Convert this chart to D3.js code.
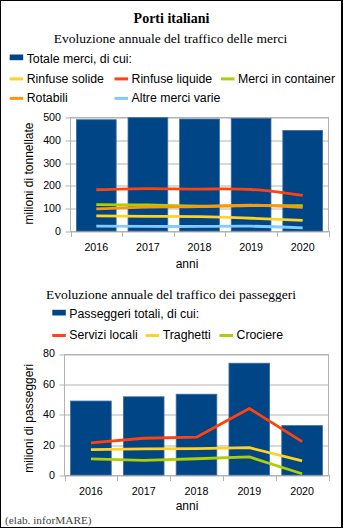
<!DOCTYPE html>
<html><head><meta charset="utf-8">
<script src="https://cdn.jsdelivr.net/npm/d3@7"></script>
<style>body{margin:0;background:#fff} svg{display:block}</style>
</head><body><svg id="c" width="343" height="528"></svg>
<script>
// Anni e dati (milioni di tonnellate / milioni di passeggeri)
const years = ["2016", "2017", "2018", "2019", "2020"];

const totaleMerci    = [488, 497, 491, 494, 441];
const rinfuseSolide  = [66, 64, 63, 56, 47];
const rinfuseLiquide = [181, 186, 184, 182, 156];
const merciContainer = [116, 114, 109, 111, 111];
const rotabili       = [97, 105, 107, 113, 104];
const altreMerci     = [21, 20, 20, 21, 14];
const merciTicks     = [0, 100, 200, 300, 400, 500];

const passeggeriTotali = [48.7, 51.5, 53.2, 73.6, 32.5];
const serviziLocali    = [21.1, 24.2, 24.9, 43.8, 22.0];
const traghetti        = [16.7, 17.2, 17.4, 18.0, 9.3];
const crociere         = [10.6, 9.6, 10.7, 11.9, 0.8];
const passTicks        = [0, 20, 40, 60, 80];

const C = {
  bar: "#004586", red: "#ff420e", yellow: "#ffd320",
  green: "#aecf00", orange: "#ff950e", sky: "#83caff",
  grid: "#b3b3b3"
};
const SANS = "'Liberation Sans', Arial, sans-serif";
const SERIF = "'Liberation Serif', 'Times New Roman', serif";

const svg = d3.select("#c");

// cornice esterna
svg.append("rect").attr("width", 343).attr("height", 528).attr("fill", "#000");
svg.append("rect").attr("x", 1).attr("y", 1).attr("width", 340).attr("height", 526).attr("fill", "#fff");

// titoli
svg.append("text").attr("x", 171.5).attr("y", 23.3).attr("text-anchor", "middle")
  .attr("font-family", SERIF).attr("font-weight", "bold").attr("font-size", 14).text("Porti italiani");
svg.append("text").attr("x", 170.5).attr("y", 42.7).attr("text-anchor", "middle")
  .attr("font-family", SERIF).attr("font-size", 13.5).text("Evoluzione annuale del traffico delle merci");
svg.append("text").attr("x", 171).attr("y", 299).attr("text-anchor", "middle")
  .attr("font-family", SERIF).attr("font-size", 13.5).text("Evoluzione annuale del traffico dei passeggeri");
svg.append("text").attr("x", 5).attr("y", 523.5)
  .attr("font-family", SERIF).attr("font-size", 11.3).attr("fill", "#444").text("(elab. inforMARE)");

// legende
function legendItem(x, y, label, color, isBar) {
  const g = svg.append("g");
  if (isBar) {
    g.append("rect").attr("x", x).attr("y", y - 8.5).attr("width", 13.5).attr("height", 5.7).attr("fill", color);
  } else {
    g.append("rect").attr("x", x).attr("y", y - 5.3).attr("width", 13.5).attr("height", 3).attr("fill", color);
  }
  g.append("text").attr("x", x + 17).attr("y", y).attr("font-family", SANS)
    .attr("font-size", 12.3).attr("fill", "#000").text(label);
}
legendItem(9.7, 63, "Totale merci, di cui:", C.bar, true);
legendItem(9.7, 82.7, "Rinfuse solide", C.yellow);
legendItem(114.5, 82.7, "Rinfuse liquide", C.red);
legendItem(221, 82.7, "Merci in container", C.green);
legendItem(9.7, 102.2, "Rotabili", C.orange);
legendItem(114.5, 102.2, "Altre merci varie", C.sky);

legendItem(52.3, 318.3, "Passeggeri totali, di cui:", C.bar, true);
legendItem(52.3, 339.3, "Servizi locali", C.red);
legendItem(145.7, 339.3, "Traghetti", C.yellow);
legendItem(219.5, 339.3, "Crociere", C.green);

// grafico combinato barre + linee
function chart(opt) {
  const { x0, x1, yTop, yBot, ticks, bars, lines, curve, yTitle, yTitleCy, tickBase, anniBase } = opt;
  const x = d3.scaleBand().domain(years).range([x0, x1]).padding(0);
  const y = d3.scaleLinear().domain([0, ticks[ticks.length - 1]]).range([yBot, yTop]);
  const g = svg.append("g");

  // griglia e tacche asse Y
  const ax = d3.axisLeft(y).tickValues(ticks).tickSize(-(x1 - x0 + 5)).tickPadding(4.5);
  const ag = g.append("g").attr("transform", `translate(${x0 - 5},0)`).call(ax);
  ag.select(".domain").remove();
  ag.selectAll(".tick line").attr("stroke", C.grid)
    .attr("transform", function () { return "translate(0," + (Math.round(y(+d3.select(this.parentNode).datum())) + 0.5 - y(+d3.select(this.parentNode).datum())) + ")"; });
  ag.selectAll(".tick text").attr("font-family", SANS).attr("font-size", 10.7).attr("fill", "#000");

  // bordo dell'area del grafico
  g.append("rect").attr("x", x0).attr("y", Math.round(yTop) + 0.5)
    .attr("width", x1 - x0).attr("height", Math.round(yBot) - Math.round(yTop))
    .attr("fill", "none").attr("stroke", C.grid);

  // barre
  const bw = x.bandwidth() * 0.77;
  g.selectAll(".bar").data(bars).join("rect")
    .attr("x", (d, i) => x(years[i]) + (x.bandwidth() - bw) / 2)
    .attr("y", d => y(d))
    .attr("width", bw)
    .attr("height", d => y(0) - y(d))
    .attr("fill", C.bar).attr("stroke", "#3d6c9e").attr("stroke-width", 0.8);

  // linee
  const line = d3.line()
    .x((d, i) => x(years[i]) + x.bandwidth() / 2)
    .y(d => y(d)).curve(curve);
  lines.forEach(s => {
    g.append("path").attr("d", line(s.values)).attr("fill", "none")
      .attr("stroke", s.color).attr("stroke-width", 2.8).attr("stroke-linejoin", "round");
  });

  // asse X: tacche ai confini di categoria, etichette al centro
  const bounds = years.map(d => x(d)).concat([x1]);
  g.selectAll(".xt").data(bounds).join("line")
    .attr("x1", d => Math.round(d) + 0.5).attr("x2", d => Math.round(d) + 0.5)
    .attr("y1", Math.round(yBot)).attr("y2", Math.round(yBot) + 6)
    .attr("stroke", C.grid);
  const xa = d3.axisBottom(x).tickSize(0).tickPadding(0);
  const xg = g.append("g").attr("transform", `translate(0,${tickBase})`).call(xa);
  xg.select(".domain").remove();
  xg.selectAll(".tick text").attr("dy", 0).attr("y", 0)
    .attr("font-family", SANS).attr("font-size", 10.7).attr("fill", "#000");

  g.append("text").attr("x", 187).attr("y", anniBase).attr("text-anchor", "middle")
    .attr("font-family", SANS).attr("font-size", 12).text("anni");
  g.append("text").attr("transform", `translate(33.3,${yTitleCy}) rotate(-90)`)
    .attr("text-anchor", "middle").attr("font-family", SANS).attr("font-size", 12).text(yTitle);
}

chart({
  x0: 70.5, x1: 328.5, yTop: 117, yBot: 231, ticks: merciTicks,
  bars: totaleMerci,
  lines: [
    { values: rinfuseSolide, color: C.yellow },
    { values: rinfuseLiquide, color: C.red },
    { values: merciContainer, color: C.green },
    { values: rotabili, color: C.orange },
    { values: altreMerci, color: C.sky }
  ],
  curve: d3.curveNatural,
  yTitle: "milioni di tonnellate", yTitleCy: 173.5,
  tickBase: 250.7, anniBase: 267.5
});

chart({
  x0: 64.5, x1: 328.5, yTop: 353.5, yBot: 475, ticks: passTicks,
  bars: passeggeriTotali,
  lines: [
    { values: serviziLocali, color: C.red },
    { values: traghetti, color: C.yellow },
    { values: crociere, color: C.green }
  ],
  curve: d3.curveLinear,
  yTitle: "milioni di passeggeri", yTitleCy: 418.3,
  tickBase: 495, anniBase: 509.5
});
</script>
</body></html>
